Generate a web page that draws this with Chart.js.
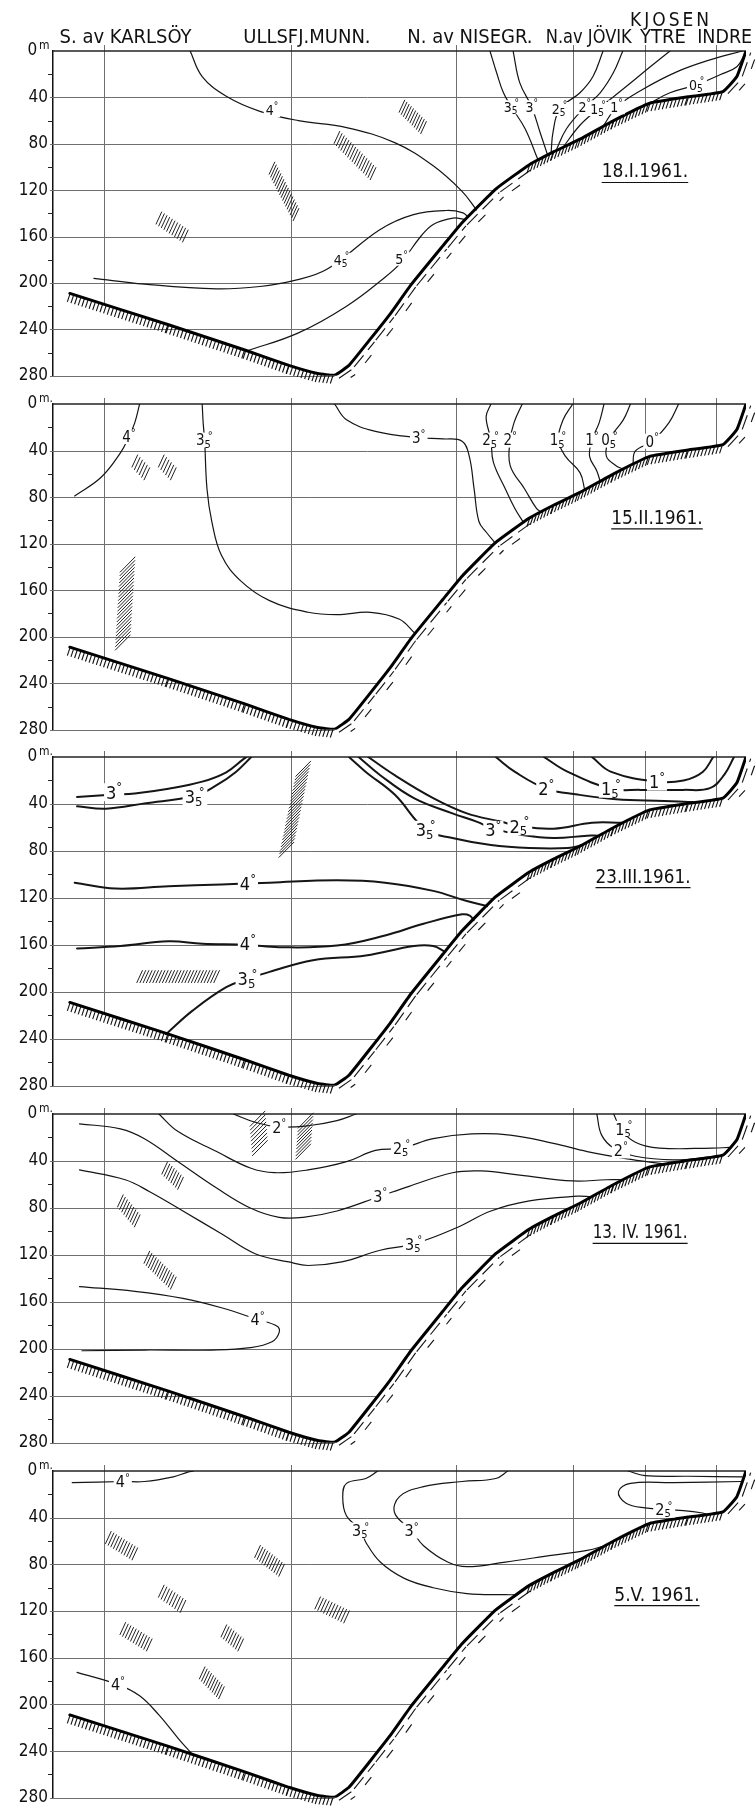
<!DOCTYPE html>
<html>
<head>
<meta charset="utf-8">
<script src="https://cdn.jsdelivr.net/npm/chart.js@4.4.0/dist/chart.umd.min.js"></script>
<style>
  html, body { margin: 0; padding: 0; background: #fff; }
  #wrap { position: relative; width: 755px; height: 1813px; }
  canvas { position: absolute; left: 0; }
</style>
</head>
<body>
<div id="wrap"></div>
<script>
const FONT = "'DejaVu Sans Condensed', 'Liberation Sans Narrow', 'DejaVu Sans', sans-serif";

// stations along the section (x = distance along the fjord, arbitrary units)
const stations = ["S. av KARLSÖY", "ULLSFJ.MUNN.", "N. av NISEGR.", "N.av JÖVIK", "YTRE", "INDRE"];
const stationX = [105, 495, 838, 1080, 1230, 1378];
const fjordName = "KJOSEN";
const depthTicks = [0, 40, 80, 120, 160, 200, 240, 280];

// sea floor along the section (depth in m)
const bottomX = [35, 240, 400, 490, 550, 585, 615, 660, 700, 745, 810, 850, 920, 990, 1040, 1095, 1165, 1240, 1320, 1392, 1421, 1440];
const bottomD = [209, 236, 258, 271, 278, 279.5, 271, 248, 227, 201, 168, 148, 119, 98, 87, 76, 60, 45, 39.5, 35, 22, 0];

const dates = ["18.I.1961.", "15.II.1961.", "23.III.1961.", "13. IV. 1961.", "5.V. 1961."];
const dateX = [1230, 1255, 1226, 1220, 1255];
const dateD = [103, 97, 101, 100, 105];

// 18.I.1961 isotherms
const janT = ["4", "4.5", "5", "3.5", "3", "2.5", "2", "1.5", "1", "0.5"];
const janX = [
  [285, 310, 360, 430, 510, 610, 710, 790, 850, 880],
  [85, 190, 340, 430, 500, 570, 679, 749, 818, 852, 862],
  [400, 510, 610, 690, 724, 762, 790, 832, 852, 857],
  [908, 922, 936, 953, 981, 1008],
  [956, 970, 995, 1012, 1028],
  [1143, 1122, 1095, 1053, 1039, 1035],
  [1184, 1164, 1137, 1105, 1067, 1045],
  [1282, 1234, 1184, 1133, 1095, 1058],
  [1143, 1171, 1226, 1296, 1365, 1432],
  [1240, 1282, 1338, 1386, 1421, 1437]
];
const janD = [
  [0, 22, 39, 52, 60, 66, 79, 99, 121, 137],
  [196, 201, 205, 203, 198, 188, 154, 141, 137.5, 139.5, 143],
  [259, 243, 220, 195, 182, 161, 149.5, 144, 145, 146],
  [0, 19, 36, 48.5, 67, 94],
  [0, 27.5, 48.5, 70, 90],
  [0, 22, 36, 50, 70, 88],
  [0, 19, 36, 48.5, 67, 86],
  [0, 16, 33, 50, 64, 84],
  [65, 48.5, 33, 18, 7.7, 0],
  [45, 36, 29, 20.5, 13.6, 3]
];
const janLabX = [455, 600, 724, 953, 995, 1053, 1105, 1133, 1171, 1338];
const janLabD = [51, 180, 179, 48.5, 48.5, 50, 48.5, 50, 48.5, 29];
const janPatches = [[725, 47.6, 770, 66], [590, 74.5, 665, 105.7], [455, 101, 505, 141], [220, 144, 275, 159.5]];

// 15.II.1961 isotherms
const febT = ["4", "3.5", "3", "2.5", "2", "1.5", "1", "0.5", "0"];
const febX = [
  [180, 170, 158, 140, 100, 45],
  [310, 312, 315, 320, 330, 350, 390, 450, 530, 590, 660, 720, 752],
  [585, 610, 670, 760, 810, 850, 865, 875, 885, 900, 920],
  [910, 900, 910, 915, 940, 960, 978],
  [975, 958, 950, 950, 980, 1005, 1015],
  [1080, 1060, 1050, 1065, 1095, 1105],
  [1145, 1135, 1120, 1115, 1130, 1137],
  [1200, 1185, 1155, 1150, 1170, 1185],
  [1300, 1280, 1245, 1210, 1205]
];
const febD = [
  [0, 16, 28, 42, 63, 79],
  [0, 16, 31, 73, 101, 130, 152, 169, 179, 181, 179, 185, 197],
  [0, 13.6, 23.5, 29, 30, 32, 45, 73, 101, 110, 120],
  [0, 11, 31, 50, 73, 90, 102],
  [0, 16, 31, 53, 73, 90, 93],
  [0, 13.6, 31, 45, 59, 74],
  [0, 16, 31, 45, 57.5, 66.5],
  [0, 13.6, 31, 45, 53, 56],
  [0, 16, 32, 40.5, 52]
];
const febLabX = [158, 315, 760, 910, 950, 1050, 1120, 1157, 1245];
const febLabD = [28, 31, 29, 31, 31, 31, 31, 31, 32];
const febPatches = [[170, 49, 195, 60], [225, 49, 250, 60], [155, 138, 145, 205]];

// 23.III.1961 isotherms
const marT = ["3", "3.5", "3.5", "3", "2.5", "2", "1.5", "1", "4", "4", "3.5"];
const marX = [
  [50, 127, 170, 240, 310, 360, 395, 402],
  [50, 110, 190, 295, 340, 380, 412],
  [615, 650, 710, 775, 830, 910, 990, 1070, 1100],
  [635, 680, 750, 830, 880, 915, 970, 1040, 1110, 1132],
  [655, 710, 790, 860, 930, 970, 1040, 1120, 1182],
  [920, 960, 1025, 1090, 1170, 1270, 1330],
  [1020, 1070, 1160, 1220, 1310, 1365, 1395, 1415],
  [1120, 1160, 1255, 1310, 1350, 1372],
  [45, 130, 240, 350, 450, 590, 690, 790, 860, 902],
  [50, 140, 240, 310, 405, 470, 590, 690, 770, 850, 866, 874],
  [235, 290, 360, 405, 450, 540, 650, 750, 790, 815]
];
const marD = [
  [34, 32, 31, 27, 21, 13, 2, 0],
  [42, 44, 39.5, 33, 24, 12.7, 0],
  [0, 12.7, 32, 62, 69, 75, 77.5, 77.5, 75],
  [0, 15.5, 35, 48, 55, 61, 66, 69, 67, 67],
  [0, 15.5, 35, 48, 55, 59, 61, 56, 56],
  [0, 12.7, 27, 32, 36, 37.5, 38.5],
  [0, 12.7, 27, 28, 28, 26.5, 15, 0],
  [0, 12.7, 21, 20, 12.7, 0],
  [107, 112, 110, 108.6, 107, 105, 107, 114, 122.7, 127],
  [163, 161, 157, 159, 160, 162, 160.6, 152, 142, 134, 135, 139],
  [236, 216, 196, 189, 183, 173, 169, 161, 161, 166]
];
const marLabX = [127, 295, 775, 915, 970, 1025, 1160, 1255, 405, 405, 405];
const marLabD = [30, 34, 62, 62, 59, 27, 27, 21, 108, 159, 189];
const marPatches = [[520, 10, 485, 79], [180, 187, 340, 187]];

// 13.IV.1961 isotherms
const aprT = ["2", "2.5", "3", "3.5", "4", "2", "1.5"];
const aprX = [
  [375, 420, 470, 530, 590, 630],
  [220, 260, 340, 410, 460, 530, 610, 670, 725, 790, 870, 950, 1040, 1110, 1190, 1270],
  [55, 140, 190, 260, 340, 410, 470, 520, 590, 680, 740, 830, 890, 970, 1080, 1150, 1185],
  [55, 150, 200, 270, 350, 420, 490, 530, 600, 680, 750, 840, 910, 990, 1090, 1118],
  [55, 170, 270, 350, 425, 465, 470, 455, 410, 330, 190, 60],
  [1130, 1140, 1165, 1210, 1290, 1370],
  [1165, 1180, 1210, 1260, 1370, 1405]
];
const aprD = [
  [0, 7, 11, 10, 5.6, 0],
  [0, 15, 32, 46, 50, 47.6, 40.6, 31, 29, 21, 17, 18, 25, 32, 38, 42.5],
  [8.4, 12.6, 21, 40.6, 63, 80, 88, 88, 82.6, 70, 61.6, 50, 48.5, 52, 57, 56, 56],
  [47.6, 56, 66, 82.6, 102, 119, 126, 129, 126, 116, 110.6, 96.6, 82.6, 74, 70, 70.5],
  [147, 151, 157, 165, 175, 180.6, 186, 194, 199, 201, 201, 201.6],
  [0, 18, 29, 36, 39, 36.5],
  [0, 12.6, 24, 29, 29, 28.5]
];
const aprLabX = [470, 725, 680, 750, 425, 1180, 1187];
const aprLabD = [11, 29, 70, 110.6, 175, 31, 12.6];
const aprPatches = [[425, 4, 430, 29], [525, 5.6, 520, 32], [232, 46, 265, 59], [140, 74, 175, 91], [195, 122, 250, 144]];

// 5.V.1961 isotherms
const mayT = ["4", "3.5", "3", "2.5", "", "4"];
const mayX = [
  [40, 145, 190, 250, 280, 292],
  [675, 650, 610, 602, 610, 640, 650, 680, 730, 790, 860, 940, 965],
  [945, 920, 850, 770, 720, 710, 745, 770, 820, 860, 940, 1040, 1110, 1150],
  [1430, 1290, 1200, 1175, 1190, 1230, 1310, 1350, 1357],
  [1195, 1230, 1320, 1432],
  [50, 135, 180, 220, 260, 290]
];
const mayD = [
  [10, 9, 9, 5, 1, 0],
  [0, 6.4, 10.6, 22, 38.6, 51, 61, 78, 92, 100, 105, 106, 106],
  [0, 6.4, 9, 13.4, 22, 36, 51, 64, 78, 82, 78, 72, 68, 63.5],
  [9, 10, 10.6, 17.6, 27.4, 31.6, 34, 36, 37],
  [0, 4, 4.5, 5],
  [172.5, 183, 192.6, 209, 229, 243]
];
const mayLabX = [145, 640, 745, 1270, null, 135];
const mayLabD = [9, 51, 51, 33, null, 183];
const mayPatches = [[115, 57, 170, 71], [425, 69, 475, 85], [225, 103, 270, 116], [550, 113, 610, 125], [145, 135, 200, 149], [355, 137, 390, 149], [310, 173, 350, 190]];

// ---------- layout ----------
const panelBox = [[51, 379], [404, 733], [757, 1089], [1114, 1446], [1471, 1801]];
const panels = [
  { T: janT, X: janX, D: janD, LX: janLabX, LD: janLabD, P: janPatches, lw: 1.2, fs: 14 },
  { T: febT, X: febX, D: febD, LX: febLabX, LD: febLabD, P: febPatches, lw: 1.2, fs: 15 },
  { T: marT, X: marX, D: marD, LX: marLabX, LD: marLabD, P: marPatches, lw: 2, fs: 18 },
  { T: aprT, X: aprX, D: aprD, LX: aprLabX, LD: aprLabD, P: aprPatches, lw: 1.2, fs: 16 },
  { T: mayT, X: mayX, D: mayD, LX: mayLabX, LD: mayLabD, P: mayPatches, lw: 1.2, fs: 16 }
];

function bottomDepthAt(x) {
  if (x <= bottomX[0]) return bottomD[0];
  for (let i = 0; i < bottomX.length - 1; i++) {
    if (x >= bottomX[i] && x <= bottomX[i + 1]) {
      const t = (x - bottomX[i]) / (bottomX[i + 1] - bottomX[i]);
      return bottomD[i] + t * (bottomD[i + 1] - bottomD[i]);
    }
  }
  return 0;
}

// where the right-hand slope reaches depth d
function slopeXAt(d) {
  const k = bottomD.indexOf(Math.max(...bottomD));
  if (d >= bottomD[k]) return bottomX[k];
  for (let i = k; i < bottomX.length - 1; i++) {
    if (d <= bottomD[i] && d >= bottomD[i + 1]) {
      const t = (bottomD[i] - d) / (bottomD[i] - bottomD[i + 1]);
      return bottomX[i] + t * (bottomX[i + 1] - bottomX[i]);
    }
  }
  return bottomX[bottomX.length - 1];
}

function line(ctx, x1, y1, x2, y2) {
  ctx.beginPath(); ctx.moveTo(x1, y1); ctx.lineTo(x2, y2); ctx.stroke();
}

function isoLabel(ctx, t, x, y, size) {
  const [ip, fp] = t.split(".");
  const sub = Math.round(size * 0.7);
  ctx.font = size + "px " + FONT;
  const wi = ctx.measureText(ip).width;
  ctx.font = sub + "px " + FONT;
  const wf = fp ? ctx.measureText(fp).width : 0;
  const wd = ctx.measureText("°").width;
  const w = wi + (fp ? wf + wd * 0.5 : wd);
  const x0 = x - w / 2;
  ctx.fillStyle = "#fff";
  ctx.fillRect(x0 - 2, y - size * 0.5, w + 4, size);
  ctx.fillStyle = "#111";
  ctx.textAlign = "left";
  ctx.textBaseline = "alphabetic";
  const base = y + size * 0.36;
  ctx.font = size + "px " + FONT;
  ctx.fillText(ip, x0, base);
  ctx.font = sub + "px " + FONT;
  if (fp) ctx.fillText(fp, x0 + wi, base + sub * 0.2);
  ctx.fillText("°", x0 + wi + (fp ? wf * 0.5 : 0), base - size * 0.42);
}

function hatchBottom(ctx, pts) {
  ctx.save();
  ctx.strokeStyle = "#111";
  ctx.lineWidth = 1.1;
  for (let i = 0; i < pts.length - 1; i++) {
    const a = pts[i], b = pts[i + 1];
    const dx = b.x - a.x, dy = b.y - a.y, len = Math.hypot(dx, dy);
    if (len < 1) continue;
    const ux = dx / len, uy = dy / len, nx = -uy, ny = ux;
    if (uy < -0.55) {
      // steep rising flank: long strokes parallel to it
      for (let s = 2; s < len; s += 22) {
        const e = Math.min(s + 15, len);
        line(ctx, a.x + ux * s + nx * 5, a.y + uy * s + ny * 5, a.x + ux * e + nx * 5, a.y + uy * e + ny * 5);
      }
      for (let s = 12; s < len; s += 30) {
        const e = Math.min(s + 10, len);
        line(ctx, a.x + ux * s + nx * 11, a.y + uy * s + ny * 11, a.x + ux * e + nx * 11, a.y + uy * e + ny * 11);
      }
    } else {
      for (let s = 0; s < len; s += 3.8) {
        const x = a.x + ux * s, y = a.y + uy * s;
        line(ctx, x, y + 1, x - 2.5, y + 8.5);
      }
    }
  }
  ctx.restore();
}

function drawPatch(ctx, p0, p1) {
  const dx = p1.x - p0.x, dy = p1.y - p0.y, len = Math.hypot(dx, dy);
  const upright = Math.abs(dy) > 2 * Math.abs(dx);
  const n = Math.max(3, Math.round(len / (upright ? 3.6 : 3.2)));
  const sx = upright ? 0.7 : 0.42, sy = upright ? -0.71 : -0.91, half = upright ? 11 : 7;
  for (let i = 0; i <= n; i++) {
    const cx = p0.x + dx * i / n, cy = p0.y + dy * i / n;
    line(ctx, cx - sx * half, cy - sy * half, cx + sx * half, cy + sy * half);
  }
}

function sectionPlugin(idx, cfg) {
  return {
    id: "section" + idx,
    beforeDatasetsDraw(chart) {
      const ctx = chart.ctx, a = chart.chartArea;
      const xs = chart.scales.x, ys = chart.scales.y;
      ctx.save();
      // depth lines, stopped at the right-hand slope
      ctx.strokeStyle = "#6e6e6e";
      ctx.lineWidth = 1;
      depthTicks.forEach(d => {
        if (d === 0) return;
        const y = Math.round(ys.getPixelForValue(d)) + 0.5;
        line(ctx, a.left - 3, y, xs.getPixelForValue(slopeXAt(d)), y);
      });
      // station verticals, surface to floor
      stationX.forEach(x => {
        const X = Math.round(xs.getPixelForValue(x)) + 0.5;
        line(ctx, X, a.top - 6, X, ys.getPixelForValue(bottomDepthAt(x)));
      });
      // surface
      ctx.strokeStyle = "#222";
      ctx.lineWidth = 1.6;
      line(ctx, a.left, a.top, a.right, a.top);
      // minor ticks on depth axis
      ctx.lineWidth = 1;
      for (let d = 20; d < 280; d += 40) {
        const y = Math.round(ys.getPixelForValue(d)) + 0.5;
        line(ctx, a.left - 5, y, a.left, y);
      }
      // hatched patches
      ctx.strokeStyle = "#222";
      ctx.lineWidth = 1;
      cfg.P.forEach(p => {
        drawPatch(ctx,
          { x: xs.getPixelForValue(p[0]), y: ys.getPixelForValue(p[1]) },
          { x: xs.getPixelForValue(p[2]), y: ys.getPixelForValue(p[3]) });
      });
      ctx.restore();
      // sea-floor hatching
      const pts = bottomX.map((x, i) => ({ x: xs.getPixelForValue(x), y: ys.getPixelForValue(bottomD[i]) }));
      hatchBottom(ctx, pts);
    },
    afterDatasetsDraw(chart) {
      const ctx = chart.ctx, a = chart.chartArea;
      const xs = chart.scales.x, ys = chart.scales.y;
      ctx.save();
      cfg.T.forEach((t, i) => {
        if (!t || cfg.LX[i] == null) return;
        isoLabel(ctx, t, xs.getPixelForValue(cfg.LX[i]), ys.getPixelForValue(cfg.LD[i]), cfg.fs);
      });
      // date
      const dx = xs.getPixelForValue(dateX[idx]), dy = ys.getPixelForValue(dateD[idx]);
      ctx.font = "19px " + FONT;
      ctx.fillStyle = "#111";
      ctx.textAlign = "center";
      ctx.textBaseline = "alphabetic";
      const w = Math.min(ctx.measureText(dates[idx]).width, 95);
      ctx.fillText(dates[idx], dx, dy + 7, 95);
      ctx.strokeStyle = "#111";
      ctx.lineWidth = 1.2;
      line(ctx, dx - w / 2, dy + 12, dx + w / 2, dy + 12);
      // unit of the depth axis
      ctx.font = "12px " + FONT;
      ctx.textAlign = "left";
      ctx.fillText(idx === 0 ? "m" : "m.", a.left - 14, a.top - 2);
      // station names over the first section
      if (idx === 0) {
        const off = [-44, -48, -49, -27, -5, -19];
        const maxW = [137, 132, 127, 86, 46, 55];
        ctx.font = "20px " + FONT;
        stations.forEach((s, i) => {
          ctx.fillText(s, xs.getPixelForValue(stationX[i]) + off[i], 43, maxW[i]);
        });
        ctx.font = "19px " + FONT;
        ctx.textAlign = "center";
        ctx.letterSpacing = "3px";
        ctx.fillText(fjordName, 671, 26);
        ctx.letterSpacing = "0px";
      }
      ctx.restore();
    }
  };
}

const wrap = document.getElementById("wrap");

panels.forEach((cfg, idx) => {
  const [T, B] = panelBox[idx];
  const top = idx === 0 ? 0 : T - 28;
  const bottom = B + 12;
  const h = bottom - top;
  const canvas = document.createElement("canvas");
  canvas.width = 755;
  canvas.height = h;
  canvas.style.top = top + "px";
  canvas.style.width = "755px";
  canvas.style.height = h + "px";
  wrap.appendChild(canvas);

  const datasets = cfg.X.map((xs, i) => ({
    data: xs.map((x, j) => ({ x: x, y: cfg.D[i][j] })),
    borderColor: "#151515",
    borderWidth: cfg.lw,
    tension: 0.4,
    pointRadius: 0,
    fill: false,
    order: 2
  }));
  datasets.push({
    data: bottomX.map((x, i) => ({ x: x, y: bottomD[i] })),
    borderColor: "#000",
    borderWidth: 3,
    tension: 0.12,
    pointRadius: 0,
    fill: false,
    order: 1
  });

  new Chart(canvas, {
    type: "line",
    data: { datasets: datasets },
    options: {
      responsive: false,
      animation: false,
      devicePixelRatio: 1,
      events: [],
      layout: { autoPadding: false, padding: { left: 0, right: 9, top: T - top, bottom: bottom - B } },
      plugins: { legend: { display: false }, tooltip: { enabled: false } },
      elements: { line: { borderCapStyle: "round", borderJoinStyle: "round" } },
      scales: {
        x: { type: "linear", display: false, min: 0, max: 1440 },
        y: {
          type: "linear",
          reverse: true,
          min: 0,
          max: 280,
          afterFit: s => { s.width = 53; },
          afterBuildTicks: s => { s.ticks = depthTicks.map(v => ({ value: v })); },
          grid: { display: false, drawTicks: false },
          border: { display: true, color: "#111", width: 1.5 },
          ticks: {
            padding: 5,
            color: "#111",
            font: { family: FONT, size: 17 },
            callback: v => (v === 0 ? "0\u2002\u2009" : String(v))
          }
        }
      }
    },
    plugins: [sectionPlugin(idx, cfg)]
  });
});
</script>
</body>
</html>
